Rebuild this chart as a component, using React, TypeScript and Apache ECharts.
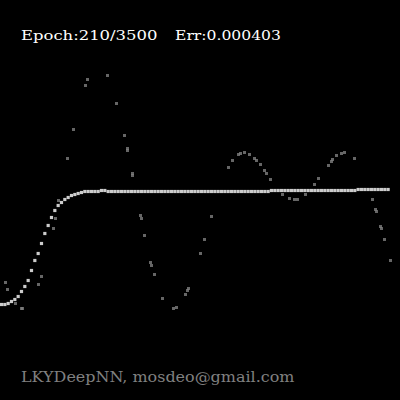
import React, { useEffect, useRef } from "react";
import * as echarts from "echarts";

// Training samples (x, y) — y measured upward, chart area spans 0..400 on both axes
const sampleX = [5.5, 7.5, 15.5, 21.5, 22.5, 38.5, 41.5, 53.5, 55.5, 58.5, 67.5, 73.5, 85.5, 87.5, 107.5, 116.5, 124.5, 127.5, 127.5, 132.5, 132.5, 140.5, 141.5, 144.5, 150.5, 151.5, 154.5, 162.5, 173.5, 176.5, 185.5, 187.5, 188.5, 200.5, 204.5, 211.5, 228.5, 232.5, 238.5, 240.5, 244.5, 249.5, 254.5, 256.5, 260.5, 264.5, 266.5, 270.5, 282.5, 289.5, 294.5, 297.5, 305.5, 314.5, 318.5, 328.5, 331.5, 332.5, 336.5, 341.5, 344.5, 354.5, 372.5, 375.5, 376.5, 380.5, 381.5, 384.5, 390.5];
const sampleY = [117.5, 110.5, 96.5, 91.5, 91.5, 115.5, 123.5, 171.5, 181.5, 199.5, 241.5, 270.5, 314.5, 320.5, 324.5, 296.5, 264.5, 251.5, 249.5, 226.5, 224.5, 184.5, 181.5, 164.5, 137.5, 134.5, 125.5, 101.5, 91.5, 92.5, 105.5, 109.5, 111.5, 146.5, 160.5, 183.5, 232.5, 239.5, 245.5, 246.5, 247.5, 245.5, 241.5, 239.5, 235.5, 229.5, 226.5, 220.5, 205.5, 201.5, 200.5, 200.5, 205.5, 215.5, 221.5, 234.5, 238.5, 240.5, 244.5, 246.5, 247.5, 241.5, 200.5, 190.5, 188.5, 173.5, 171.5, 160.5, 139.5];

// Network prediction, sampled on a uniform x grid
const predStart = 1.5;
const predStep = 3.333;
const predY = [
  95.5, 95.5, 96.5, 98.5, 100.5, 103.5, 108.5, 113.5, 119.5, 129.5,
  139.5, 146.5, 156.5, 166.5, 174.5, 182.5, 189.5, 194.5, 197.5, 200.5,
  202.5, 204.5, 205.5, 206.5, 207.5, 208.5, 208.5, 208.5, 208.5, 208.5,
  209.5, 209.5, 208.5, 208.5, 208.5, 208.5, 208.5, 208.5, 208.5, 208.5,
  208.5, 208.5, 208.5, 208.5, 208.5, 208.5, 208.5, 208.5, 208.5, 208.5,
  208.5, 208.5, 208.5, 208.5, 208.5, 208.5, 208.5, 208.5, 208.5, 208.5,
  208.5, 208.5, 208.5, 208.5, 208.5, 208.5, 208.5, 208.5, 208.5, 208.5,
  208.5, 208.5, 208.5, 208.5, 208.5, 208.5, 208.5, 208.5, 208.5, 208.5,
  208.5, 209.5, 209.5, 209.5, 209.5, 209.5, 209.5, 209.5, 209.5, 209.5,
  209.5, 209.5, 209.5, 209.5, 209.5, 209.5, 209.5, 209.5, 209.5, 209.5,
  209.5, 209.5, 209.5, 209.5, 209.5, 209.5, 209.5, 210.5, 210.5, 210.5,
  210.5, 210.5, 210.5, 210.5, 210.5, 210.5, 210.5,
];

const titleEpoch = "Epoch:210/3500";
const titleErr = "Err:0.000403";
const footer = "LKYDeepNN, mosdeo@gmail.com";

export default function App() {
  const ref = useRef<HTMLDivElement>(null);
  useEffect(() => {
    if (!ref.current) return;
    const chart = echarts.init(ref.current, undefined, { renderer: "svg" });
    const samples = sampleX.map((x, i) => [x, sampleY[i]]);
    const pred = predY.map((y, i) => [predStart + predStep * i, y]);
    chart.setOption({
      animation: false,
      backgroundColor: "#000",
      grid: { left: 0, right: 0, top: 0, bottom: 0 },
      xAxis: { type: "value", min: 0, max: 400, show: false },
      yAxis: { type: "value", min: 0, max: 400, show: false },
      series: [
        {
          type: "scatter",
          data: samples,
          symbol: "rect",
          symbolSize: 3,
          itemStyle: { color: "#808080" },
          silent: true,
        },
        {
          type: "scatter",
          data: pred,
          symbol: "rect",
          symbolSize: 3.2,
          itemStyle: { color: "#ffffff" },
          silent: true,
        },
      ],
      graphic: [
        {
          type: "text",
          x: 21,
          y: 35.5,
          scaleX: 1.37,
          style: {
            text: titleEpoch,
            fill: "#ffffff",
            font: "12px 'DejaVu Serif'",
            verticalAlign: "middle",
          },
        },
        {
          type: "text",
          x: 175,
          y: 35.5,
          scaleX: 1.3,
          style: {
            text: titleErr,
            fill: "#ffffff",
            font: "12px 'DejaVu Serif'",
            verticalAlign: "middle",
          },
        },
        {
          type: "text",
          x: 21,
          y: 377,
          scaleX: 1.14,
          style: {
            text: footer,
            fill: "#808080",
            font: "14px 'DejaVu Serif'",
            verticalAlign: "middle",
          },
        },
      ],
    });
    return () => chart.dispose();
  }, []);
  return (
    <div
      ref={ref}
      style={{ position: "fixed", left: 0, top: 0, width: 400, height: 400, background: "#000" }}
    />
  );
}
